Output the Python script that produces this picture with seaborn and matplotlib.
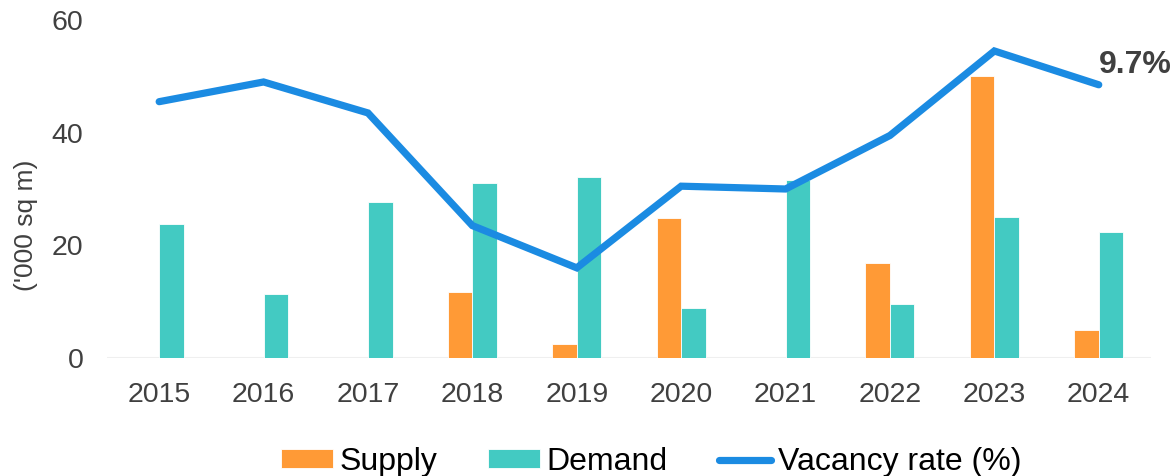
import matplotlib
matplotlib.use("Agg")
import matplotlib.pyplot as plt
import seaborn as sns
import pandas as pd

# Annual office supply / demand ('000 sq m) and vacancy rate (%)
years = ["2015", "2016", "2017", "2018", "2019", "2020", "2021", "2022", "2023", "2024"]
supply = [0, 0, 0, 11.7, 2.5, 24.9, 0, 16.9, 50.0, 5.0]
demand = [23.8, 11.4, 27.7, 31.0, 32.1, 8.8, 31.6, 9.5, 25.0, 22.4]
vacancy = [9.1, 9.8, 8.7, 4.7, 3.2, 6.1, 6.0, 7.9, 10.9, 9.7]

ORANGE = "#FF9A36"
TEAL = "#43CAC2"
BLUE = "#1B8BE2"
GREY = "#404040"

sns.set_theme(style="white")
plt.rcParams["font.family"] = ["Liberation Sans", "DejaVu Sans"]

bars = pd.DataFrame({
    "year": years * 2,
    "value": supply + demand,
    "series": ["Supply"] * len(years) + ["Demand"] * len(years),
})

fig = plt.figure(figsize=(11.73, 4.76), dpi=100)
ax = fig.add_axes([0.0912, 0.2479, 0.89, 0.7101])

sns.barplot(data=bars, x="year", y="value", hue="series",
            palette={"Supply": ORANGE, "Demand": TEAL}, saturation=1,
            width=0.47, gap=0, edgecolor="white", linewidth=0.6,
            ax=ax, legend=True)

ax.set_ylim(0, 60)
ax.set_yticks([0, 20, 40, 60])
ax.set_xlim(-0.5, len(years) - 0.5)
ax.axhline(0, color="#EFEFEF", lw=1.5, zorder=0)
for s in ax.spines.values():
    s.set_visible(False)
ax.tick_params(axis="both", length=0, labelsize=20.5, labelcolor=GREY)
ax.tick_params(axis="x", pad=17)
ax.tick_params(axis="y", pad=17)
ax.set_xlabel("")
ax.set_ylabel("('000 sq m)", fontsize=19, color=GREY)
ax.yaxis.set_label_coords(-0.066, 0.393)

# Vacancy rate on a hidden secondary axis
ax2 = ax.twinx()
xpos = list(range(len(years)))
sns.lineplot(x=xpos, y=vacancy, ax=ax2, color=BLUE, lw=5.2,
             solid_capstyle="round", solid_joinstyle="miter",
             label="Vacancy rate (%)", legend=False)
ax2.set_ylim(0, 12)
ax2.set_axis_off()
ax2.annotate(f"{vacancy[-1]}%", xy=(xpos[-1], vacancy[-1]),
             xytext=(0, 14), textcoords="offset points",
             ha="left", va="center", fontsize=23, fontweight="bold",
             color=GREY)

h1, l1 = ax.get_legend_handles_labels()
h2, l2 = ax2.get_legend_handles_labels()
ax.get_legend().remove()
fig.legend(h1 + h2, l1 + l2, loc="center",
           bbox_to_anchor=(651 / 1173, 1 - 462 / 476),
           ncol=3, frameon=False, fontsize=23, labelcolor="black",
           handlelength=1.63, handleheight=0.53, handletextpad=0.2,
           columnspacing=1.6, borderaxespad=0)

fig.savefig("out.png", dpi=100)
